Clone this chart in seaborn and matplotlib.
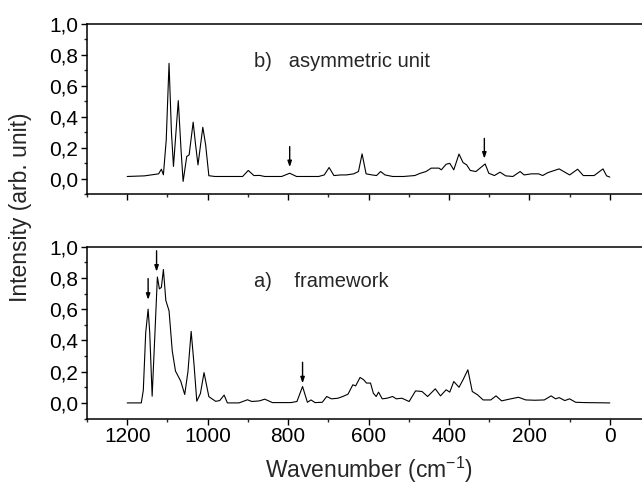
import numpy as np
import pandas as pd
import matplotlib
matplotlib.use("Agg")
import matplotlib.pyplot as plt
from matplotlib.ticker import MultipleLocator, FuncFormatter
import seaborn as sns

# ---- data ----
wn_asym = [1200, 1157, 1122, 1115, 1110, 1103, 1096, 1090, 1085, 1073, 1066, 1061, 1052,
           1046, 1036, 1030, 1024, 1012, 1005, 997, 982, 913, 899, 885, 871, 858, 816,
           796, 779, 724, 710, 698, 686, 669, 655, 637, 625, 616, 606, 591, 580, 570,
           559, 540, 513, 485, 471, 457, 444, 434, 425, 419, 407, 398, 388, 375, 365,
           356, 347, 333, 310, 301, 287, 273, 259, 241, 223, 213, 195, 177, 167, 154,
           126, 100, 80, 66, 39, 17, 8, 0]
int_asym = [0.015, 0.019, 0.032, 0.062, 0.026, 0.25, 0.746, 0.30, 0.08, 0.505,
            0.18, -0.017, 0.144, 0.155, 0.366, 0.22, 0.09, 0.333, 0.22, 0.02,
            0.015, 0.015, 0.054, 0.021, 0.022, 0.015, 0.015, 0.036, 0.015, 0.015,
            0.025, 0.073, 0.021, 0.025, 0.025, 0.032, 0.047, 0.161, 0.032, 0.025,
            0.021, 0.047, 0.025, 0.015, 0.015, 0.021, 0.036, 0.047, 0.069, 0.069,
            0.069, 0.058, 0.094, 0.10, 0.058, 0.16, 0.105, 0.09, 0.054, 0.047,
            0.096, 0.036, 0.021, 0.043, 0.019, 0.015, 0.047, 0.025, 0.032, 0.032,
            0.021, 0.040, 0.064, 0.025, 0.062, 0.021, 0.021, 0.064, 0.019, 0.011]

wn_frame = [1200, 1165, 1160, 1154, 1148, 1144, 1138, 1131, 1125, 1120,
            1115, 1110, 1104, 1096, 1088, 1080, 1067, 1057, 1049, 1041,
            1034, 1027, 1018, 1009, 997, 980, 970, 959, 951, 922,
            901, 890, 871, 858, 839, 816, 793, 778,
            764, 752, 743, 733, 715, 704, 692, 676, 664, 651,
            639, 632, 621, 612, 605, 595, 588, 581, 575, 566,
            554, 540, 531, 517, 499, 483, 467, 453, 434, 421,
            407, 398, 388, 375, 365, 353, 342, 329, 315, 296,
            283, 269, 250, 227, 209, 186, 163, 146, 135, 126,
            112, 100, 85, 62, 0]
int_frame = [0.0, 0.0, 0.08, 0.45, 0.60, 0.45, 0.043, 0.45, 0.806, 0.73,
             0.74, 0.854, 0.656, 0.59, 0.333, 0.204, 0.14, 0.054, 0.20, 0.458,
             0.25, 0.011, 0.06, 0.194, 0.04, 0.01, 0.015, 0.05, 0.0, 0.0,
             0.02, 0.009, 0.013, 0.024, 0.002, 0.002, 0.002, 0.009,
             0.105, 0.004, 0.019, 0.002, 0.004, 0.041, 0.026, 0.030, 0.041, 0.056,
             0.116, 0.109, 0.163, 0.148, 0.127, 0.127, 0.062, 0.041, 0.069, 0.026,
             0.030, 0.041, 0.026, 0.030, 0.009, 0.077, 0.073, 0.041, 0.090, 0.045,
             0.084, 0.069, 0.137, 0.10, 0.148, 0.212, 0.073, 0.052, 0.019, 0.019,
             0.045, 0.013, 0.024, 0.036, 0.019, 0.017, 0.019, 0.045, 0.026, 0.034,
             0.015, 0.026, 0.004, 0.002, 0.0]

panel_labels = ["b)   asymmetric unit", "a)    framework"]
arrows_asym = [(796, 0.208, 0.075), (312, 0.261, 0.130)]
arrows_frame = [(1148, 0.796, 0.66), (1127, 0.974, 0.84), (764, 0.26, 0.125)]

x_label = "Wavenumber (cm$^{\\mathregular{-1}}$)"
y_label = "Intensity (arb. unit)"

# ---- style ----
sns.set_style("ticks")
plt.rcParams["font.family"] = ["Liberation Sans", "DejaVu Sans"]
plt.rcParams["mathtext.fontset"] = "custom"
plt.rcParams["mathtext.rm"] = "Liberation Sans"

fig = plt.figure(figsize=(6.42, 4.96), dpi=100)
ax_top = fig.add_axes([0.1355, 0.6083, 0.8645, 0.3433])
ax_bot = fig.add_axes([0.1355, 0.1562, 0.8645, 0.3464])

df_top = pd.DataFrame({"wn": wn_asym, "I": int_asym})
df_bot = pd.DataFrame({"wn": wn_frame, "I": int_frame})

sns.lineplot(data=df_top, x="wn", y="I", ax=ax_top, color="black", lw=0.8,
             estimator=None, sort=False)
sns.lineplot(data=df_bot, x="wn", y="I", ax=ax_bot, color="black", lw=0.8,
             estimator=None, sort=False)

comma_fmt = FuncFormatter(lambda v, p: f"{v:.1f}".replace(".", ","))

for ax, label, arrows in [(ax_top, panel_labels[0], arrows_asym),
                          (ax_bot, panel_labels[1], arrows_frame)]:
    ax.set_xlim(1300, -80)
    ax.set_ylim(-0.1, 1.0)
    ax.xaxis.set_major_locator(MultipleLocator(200))
    ax.xaxis.set_minor_locator(MultipleLocator(100))
    ax.yaxis.set_major_locator(MultipleLocator(0.2))
    ax.yaxis.set_minor_locator(MultipleLocator(0.1))
    ax.yaxis.set_major_formatter(comma_fmt)
    ax.tick_params(which="major", direction="out", length=4.3, width=1.0,
                   labelsize=15, colors="black", pad=2)
    ax.tick_params(which="minor", direction="out", length=2.4, width=1.0)
    ax.tick_params(top=False, right=False, which="both")
    for s in ["left", "bottom", "top"]:
        ax.spines[s].set_linewidth(1.1)
        ax.spines[s].set_color("black")
    ax.spines["right"].set_visible(False)
    ax.set_xlabel("")
    ax.set_ylabel("")
    ax.set_yticks([0.0, 0.2, 0.4, 0.6, 0.8, 1.0])
    ax.text(885, 0.76 if ax is ax_top else 0.78, label, fontsize=14.5,
            ha="left", va="center")
    for (xa, y0, y1) in arrows:
        ax.annotate("", xy=(xa, y1), xytext=(xa, y0),
                    arrowprops=dict(arrowstyle="-|>,head_length=0.35,head_width=0.12",
                                    color="black", lw=1.0, shrinkA=0, shrinkB=0))

ax_top.tick_params(labelbottom=False)
ax_bot.xaxis.set_major_formatter(FuncFormatter(lambda v, p: f"{int(v)}"))

fig.text(0.032, 0.583, y_label, rotation=90, ha="center", va="center", fontsize=16.5)
fig.text(0.575, 0.052, x_label, ha="center", va="center", fontsize=16.5)

fig.savefig("out.png", dpi=100)
